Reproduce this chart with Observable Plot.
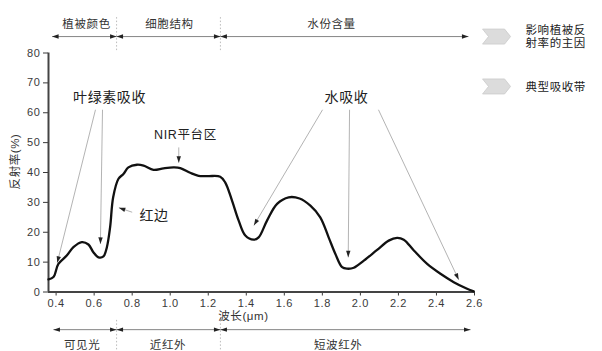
<!DOCTYPE html>
<html><head><meta charset="utf-8">
<script src="https://cdn.jsdelivr.net/npm/d3@7"></script>
<script src="https://cdn.jsdelivr.net/npm/@observablehq/plot@0.6"></script>
<style>body{margin:0;background:#fff}</style>
</head><body><div id="chart"></div>
<script>
// ---- data ----
const wavelength = [0.36,0.386,0.412,0.456,0.491,0.535,0.57,0.596,0.623,0.649,0.667,0.684,0.70,0.728,0.754,0.78,0.825,0.86,0.912,0.965,1.017,1.053,1.105,1.149,1.20,1.263,1.289,1.325,1.36,1.395,1.438,1.465,1.509,1.562,1.623,1.68,1.737,1.789,1.833,1.868,1.904,1.93,1.965,2.018,2.088,2.149,2.193,2.228,2.281,2.351,2.421,2.491,2.561,2.596];
const reflectance = [4.2,5.0,9.4,12.2,15.0,16.7,15.9,13.3,11.6,11.9,15.0,21.7,31.7,37.9,39.5,41.7,42.6,42.3,40.9,41.4,41.7,41.5,39.9,38.9,38.8,38.6,36.7,30.6,23.9,18.9,17.5,18.3,23.9,29.5,31.7,31.3,28.9,25.0,18.3,12.8,8.3,7.8,8.1,10.5,14.1,17.2,18.1,17.5,13.9,9.4,6.1,3.3,1.1,0.2];
const xTicks = [0.4,0.6,0.8,1.0,1.2,1.4,1.6,1.8,2.0,2.2,2.4,2.6];
const yTicks = [0,10,20,30,40,50,60,70,80];

// annotations
const annoLabels = ["叶绿素吸收","水吸收","NIR平台区","红边"];
const annoLabelX = [0.681,1.927,1.080,0.915];
const annoLabelY = [65.1,65.1,52.4,25.6];
const arrowX1 = [0.607,0.644,1.801,1.943,2.095,1.045,0.800];
const arrowY1 = [61,61,61,61,61,48.4,26.7];
const arrowX2 = [0.406,0.633,1.440,1.936,2.517,1.045,0.730];
const arrowY2 = [9.8,16.1,22.3,11.6,4.1,43.3,28.2];

// brackets
const topBreaks = [0.379,0.718,1.264,2.568];
const topLabels = ["植被颜色","细胞结构","水份含量"];
const topLabelX = [0.560,0.996,1.848];
const bottomBreaks = [0.386,0.718,1.264,2.579];
const bottomLabels = ["可见光","近红外","短波红外"];
const bottomLabelX = [0.537,0.988,1.883];
const dividers = [0.718,1.264];

// legend
const legendLabels = ["影响植被反\n射率的主因","典型吸收带"];
const legendY = [85.5,68.8];

// ---- layout ----
const W=602,H=351,ML=48,MR=128,MT=52.5,MB=59.5;
const xDomain=[0.36,2.6], yDomain=[0,80];
const xs = Plot.scale({x:{domain:xDomain, range:[ML, W-MR]}});
const ys = Plot.scale({y:{domain:yDomain, range:[H-MB, MT]}});

const spectrum = wavelength.map((w,i)=>({w, r:reflectance[i]}));
const arrows = arrowX1.map((x1,i)=>{
  const x2=arrowX2[i], y1=arrowY1[i], y2=arrowY2[i];
  const dx = xs.apply(x2)-xs.apply(x1), dy = ys.apply(y2)-ys.apply(y1);
  return {x1,y1,x2,y2,rot:Math.atan2(dx,-dy)*180/Math.PI};
});
const annos = annoLabels.map((t,i)=>({t,x:annoLabelX[i],y:annoLabelY[i]}));

function segs(breaks,y){const s=[];for(let i=0;i<breaks.length-1;i++)s.push({x1:breaks[i],x2:breaks[i+1],y});return s;}
const TOPY=85.5, BOTY=-12.6;
const bracketSegs = segs(topBreaks,TOPY).concat(segs(bottomBreaks,BOTY));
const bracketHeads = bracketSegs.flatMap(s=>[{x:s.x1,y:s.y,rot:-90},{x:s.x2,y:s.y,rot:90}]);
const bracketText = topLabels.map((t,i)=>({t,x:topLabelX[i],y:89.5}))
  .concat(bottomLabels.map((t,i)=>({t,x:bottomLabelX[i],y:-17.9})));
const divTop = dividers.map(x=>({x,y1:80.8,y2:92.5}));
const divBot = dividers.map(x=>({x,y1:-9.5,y2:-21}));
const legend = legendLabels.map((t,i)=>({t,y:legendY[i]}));

const head = {draw(ctx){ctx.moveTo(0,0);ctx.lineTo(-2.2,6.5);ctx.lineTo(2.2,6.5);ctx.closePath();}};
const chevron = {draw(ctx){ctx.moveTo(-14,-7.5);ctx.lineTo(8,-7.5);ctx.lineTo(14,0);ctx.lineTo(8,7.5);ctx.lineTo(-14,7.5);ctx.lineTo(-8,0);ctx.closePath();}};

const CJK = "'Liberation Sans', 'Noto Sans CJK SC', sans-serif";

const chart = Plot.plot({
  width:W, height:H, marginLeft:ML, marginRight:MR, marginTop:MT, marginBottom:MB,
  style:{fontFamily:CJK, fontSize:"11px", color:"#3a3a3a", background:"#fff", overflow:"visible", letterSpacing:"0.6px"},
  x:{domain:xDomain, ticks:xTicks, tickFormat:d3.format(".1f"), tickSize:4, tickPadding:3, label:null},
  y:{domain:yDomain, ticks:yTicks, tickSize:5, tickPadding:3, label:null},
  marks:[
    Plot.ruleX(divTop,{x:"x",y1:"y1",y2:"y2",stroke:"#bbb",strokeDasharray:"1.5,2"}),
    Plot.ruleX(divBot,{x:"x",y1:"y1",y2:"y2",stroke:"#bbb",strokeDasharray:"1.5,2"}),
    Plot.link(bracketSegs,{x1:"x1",x2:"x2",y1:"y",y2:"y",stroke:"#777",strokeWidth:0.9}),
    Plot.dot(bracketHeads,{x:"x",y:"y",rotate:"rot",symbol:head,fill:"#222",stroke:null}),
    Plot.text(bracketText,{x:"x",y:"y",text:"t",fontSize:11.5,fill:"#333"}),
    Plot.ruleY([0],{stroke:"#444",strokeWidth:2}),
    Plot.ruleX([xDomain[0]],{stroke:"#444",strokeWidth:2}),
    Plot.line(spectrum,{x:"w",y:"r",curve:"catmull-rom",stroke:"#111",strokeWidth:2.3}),
    Plot.link(arrows,{x1:"x1",y1:"y1",x2:"x2",y2:"y2",stroke:"#aaa",strokeWidth:0.9}),
    Plot.dot(arrows,{x:"x2",y:"y2",rotate:"rot",symbol:head,fill:"#222",stroke:null}),
    Plot.text(annos,{x:"x",y:"y",text:"t",fontSize:d=>d.t==="NIR平台区"?12.5:14,fill:"#222"}),
    Plot.text(["反射率(%)"],{x:0.186,y:43.7,text:d=>d,rotate:-90,fontSize:11.5,fill:"#333"}),
    Plot.text(["波长(μm)"],{x:1.385,y:-8.2,text:d=>d,fontSize:11.5,fill:"#333"}),
    Plot.dot(legend,{x:2.716,y:"y",symbol:chevron,fill:"#dcdcdc",stroke:"#cacaca",strokeWidth:0.8}),
    Plot.text(legend,{x:2.868,y:"y",text:"t",textAnchor:"start",fontSize:11.5,lineHeight:1.15,fill:"#222"})
  ]
});
document.getElementById("chart").appendChild(chart);
</script>
</body></html>
